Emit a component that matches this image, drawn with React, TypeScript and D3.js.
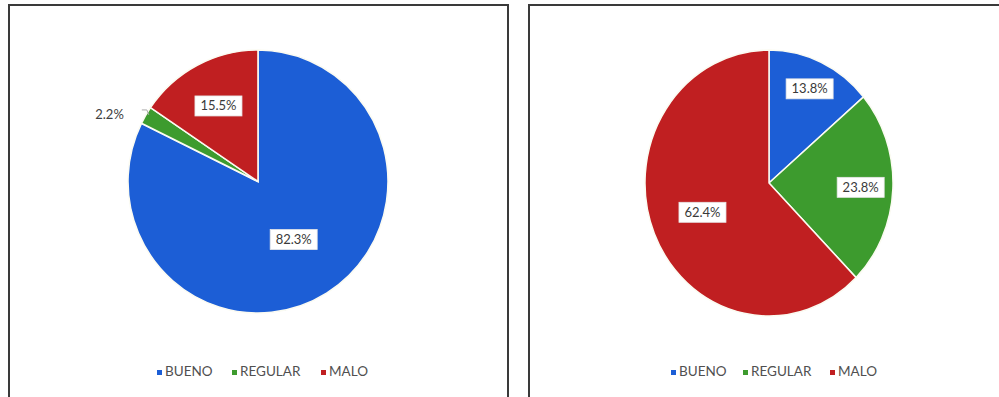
import React from "react";
import * as d3 from "d3";

const categories = ["BUENO", "REGULAR", "MALO"];
const leftValues = [82.3, 2.2, 15.5];
const rightValues = [13.8, 23.8, 62.4];

const COLORS = ["#1c5ed6", "#3d9b2e", "#c01f21"];
const FONT = "Lato, 'Liberation Sans', sans-serif";

type PanelCfg = {
  values: number[];
  cx: number;
  cy: number;
  rx: number;
  ry: number;
  labelFactor: number[];
  outside: boolean[];
  legendX: number[];
};

function Pie({ cfg }: { cfg: PanelCfg }) {
  const r = cfg.ry;
  const sx = cfg.rx / cfg.ry;
  const pie = d3.pie<number>().sort(null).value((d) => d);
  const arcs = pie(cfg.values);
  const arc = d3.arc<d3.PieArcDatum<number>>().innerRadius(0).outerRadius(r);
  return (
    <g>
      <g transform={`translate(${cfg.cx},${cfg.cy}) scale(${sx},1)`}>
        {arcs.map((a, i) => (
          <path
            key={i}
            d={arc(a) || ""}
            fill={COLORS[i]}
            stroke="#fbfbf2"
            strokeWidth={1.6}
          />
        ))}
      </g>
      {arcs.map((a, i) => {
        const f = cfg.labelFactor[i];
        const la = d3.arc<d3.PieArcDatum<number>>().innerRadius(r * f).outerRadius(r * f);
        const [lx0, ly] = la.centroid(a);
        const lx = lx0 * sx;
        const txt = cfg.values[i].toFixed(1) + "%";
        if (cfg.outside[i]) {
          const ea = d3.arc<d3.PieArcDatum<number>>().innerRadius(r * 0.99).outerRadius(r * 0.99);
          const [ex0, ey] = ea.centroid(a);
          const ex = cfg.cx + ex0 * sx;
          const eyy = cfg.cy + ey;
          const pts: [number, number][] = [
            [ex + 2, eyy - 1],
            [ex, eyy - 6],
            [ex - 5, eyy - 6],
          ];
          return (
            <g key={"l" + i}>
              <path
                d={d3.line()(pts) || ""}
                fill="none"
                stroke="#aaaaaa"
                strokeWidth={1}
              />
              <text
                x={ex - 23}
                y={eyy}
                textAnchor="end"
                dominantBaseline="middle"
                fontFamily={FONT}
                fontSize={13}
                fill="#404040"
              >
                {txt}
              </text>
            </g>
          );
        }
        const w = 47;
        const h = 20;
        return (
          <g key={"l" + i} transform={`translate(${cfg.cx + lx},${cfg.cy + ly})`}>
            <rect x={-w / 2} y={-h / 2} width={w} height={h} fill="#ffffff" stroke="#e6e6e6" strokeWidth={0.8} />
            <text
              x={0}
              y={1}
              textAnchor="middle"
              dominantBaseline="middle"
              fontFamily={FONT}
              fontSize={13}
              fill="#3a3a3a"
            >
              {txt}
            </text>
          </g>
        );
      })}
      {categories.map((c, i) => (
        <g key={"lg" + i}>
          <rect x={cfg.legendX[i]} y={370} width={5} height={5} fill={COLORS[i]} />
          <text
            x={cfg.legendX[i] + 8}
            y={373}
            dominantBaseline="middle"
            fontFamily={FONT}
            fontSize={13.5}
            fill="#505050"
          >
            {c}
          </text>
        </g>
      ))}
    </g>
  );
}

export default function App() {
  const left: PanelCfg = {
    values: leftValues,
    cx: 258,
    cy: 181.5,
    rx: 130,
    ry: 131.5,
    labelFactor: [0.52, 1.1, 0.65],
    outside: [false, true, false],
    legendX: [157, 232, 321],
  };
  const right: PanelCfg = {
    values: rightValues,
    cx: 769,
    cy: 183,
    rx: 124,
    ry: 133,
    labelFactor: [0.78, 0.74, 0.58],
    outside: [false, false, false],
    legendX: [671, 743, 830],
  };
  return (
    <svg
      width={999}
      height={397}
      style={{ position: "absolute", left: 0, top: 0, background: "#ffffff" }}
    >
      <rect x={0} y={0} width={999} height={397} fill="#ffffff" />
      <path d="M9,400 L9,5 L508,5 L508,400" fill="none" stroke="#3a3a3a" strokeWidth={2} />
      <path d="M529,400 L529,5 L1002,5" fill="none" stroke="#3a3a3a" strokeWidth={2} />
      <Pie cfg={left} />
      <Pie cfg={right} />
    </svg>
  );
}
